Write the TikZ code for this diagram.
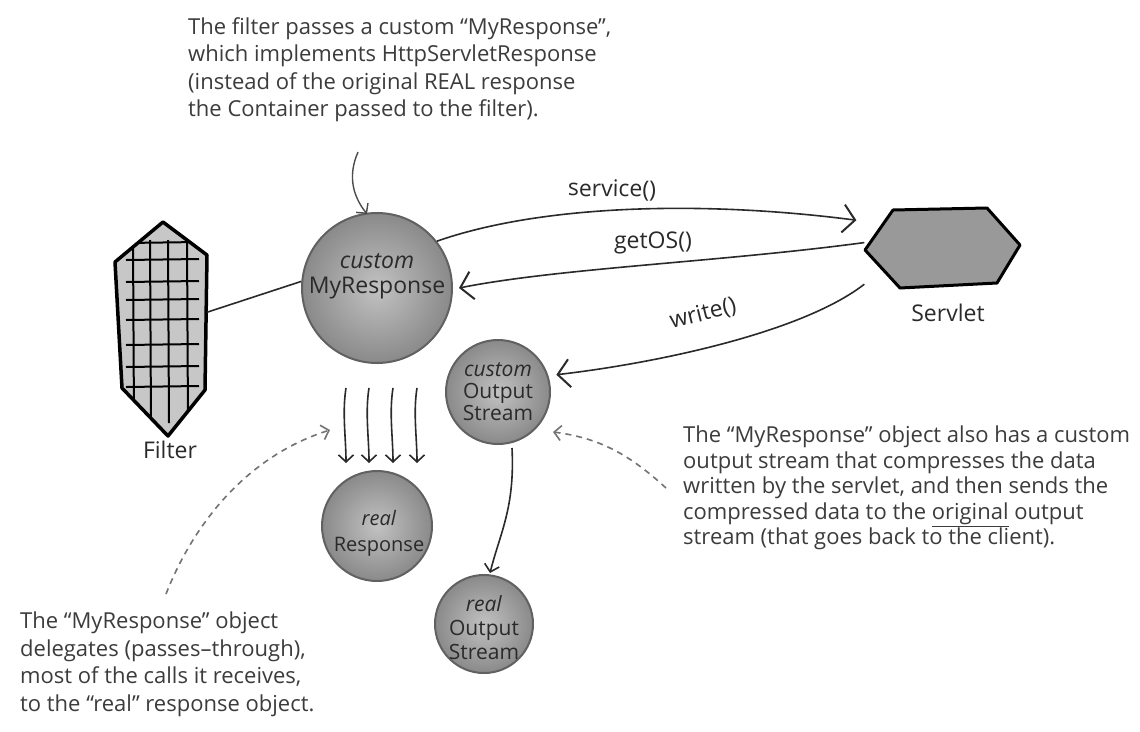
\documentclass[tikz,border=0pt]{standalone}
\usepackage{fontspec}
\setmainfont{Open Sans}
\usetikzlibrary{arrows.meta,calc}
\definecolor{ink}{HTML}{2A2A2A}
\definecolor{note}{HTML}{3C3C3C}
\begin{document}
\begin{tikzpicture}[x=1pt,y=-1pt,
  obj/.style={circle, draw=black!62, line width=2pt, inner color=black!24, outer color=black!46, inner sep=0pt},
  lbl/.style={align=center, text=ink, font=\fontsize{23}{23}\selectfont, inner sep=0pt},
  notetext/.style={align=left, text=note, anchor=north west, inner sep=0pt, font=\fontsize{22}{27.5}\selectfont},
  conn/.style={draw=ink, line width=1.6pt},
  bigtip/.style={-{Straight Barb[length=12pt,width=28pt,line width=2pt]}},
  smalltip/.style={-{Straight Barb[length=7pt,width=15pt]}},
  hint/.style={draw=black!55, line width=1.6pt, dash pattern=on 6pt off 5pt},
]
\useasboundingbox[fill=white] (0,0) rectangle (1140,731);

% ---------- Filter ----------
\node[inner sep=0pt, minimum width=92pt, minimum height=214pt] (filter) at (161,329) {};
\begin{scope}
  \clip (163,222) -- (207,255) -- (205,390) -- (168,436) -- (122,388) -- (115,262) -- cycle;
  \fill[black!22] (100,200) rectangle (230,450);
  \foreach \x in {133,150,168,187} \draw[black, line width=2pt] (\x,240) -- (\x+1,423);
  \foreach \y in {243,260,282,300,320,345,367,387} \draw[black, line width=2pt] (126,\y) -- (199,\y-1);
\end{scope}
\draw[black, line width=3.5pt, line join=round] (163,222) -- (207,255) -- (205,390) -- (168,436) -- (122,388) -- (115,262) -- cycle;
\node[lbl] (filterlbl) at (170,450) {Filter};

% ---------- Servlet ----------
\node[inner sep=0pt, minimum width=155pt, minimum height=80pt] (servlet) at (942,248) {};
\draw[black, line width=3pt, fill=black!40, line join=round] (865,250) -- (893,210) -- (987,208) -- (1020,245) -- (997,283) -- (900,288) -- cycle;
\node[lbl] (servletlbl) at (948,313) {Servlet};

% ---------- circles ----------
\node[obj, minimum size=150pt] (myr) at (377,288) {};
\node[lbl, font=\fontsize{23}{25}\selectfont] (myrt) at (377,276) {\textit{custom}\\MyResponse};
\node[obj, minimum size=104pt] (cos) at (498,392) {};
\node[lbl, font=\fontsize{21}{22}\selectfont] (cost) at (498,392) {\textit{custom}\\Output\\Stream};
\node[obj, minimum size=110pt] (rr) at (377,526) {};
\node[lbl, font=\fontsize{20}{26}\selectfont] (rrt) at (379,533) {\textit{real}\\Response};
\node[obj, minimum size=98pt] (ros) at (484,624) {};
\node[lbl, font=\fontsize{21}{24}\selectfont] (rost) at (484,628) {\textit{real}\\Output\\Stream};

% ---------- connectors ----------
\draw[conn] (filter.20) -- (myr.175);
\draw[conn, bigtip, shorten >=8pt] (myr.38) .. controls (540,205) and (700,200) .. (servlet.161);
\node[lbl, rotate=-1] (servicelbl) at (612,190) {service()};
\draw[conn, bigtip] (servlet.176) .. controls (720,262) and (560,268) .. ([xshift=6pt]myr.east);
\node[lbl] (getoslbl) at (653,243) {getOS()};
\draw[conn, bigtip, shorten >=8pt] (servlet.205) .. controls (800,334) and (650,364) .. (cos.18);
\node[lbl, rotate=14] (writelbl) at (703,314) {write()};

\foreach \dx in {-31,-8,16,40}{
  \draw[conn, smalltip] ([xshift=\dx pt, yshift=-24pt]myr.south) .. controls +(-4,25) and +(0,-25) .. ([xshift=\dx pt, yshift=7pt]rr.north);
}
\draw[conn, smalltip] ([xshift=14pt, yshift=-3pt]cos.south) .. controls +(3,60) and +(10,-40) .. ([xshift=6pt, yshift=1pt]ros.north);

% ---------- annotations ----------
\node[notetext] (topnote) at (188,17) {The filter passes a custom “MyResponse”,\\which implements HttpServletResponse\\(instead of the original REAL response\\the Container passed to the filter).};
\coordinate (tn) at (358,152);
\draw[conn, draw=black!70, line width=1.4pt, smalltip] (tn) .. controls (348,175) and (352,195) .. ([xshift=-10pt, yshift=-2pt]myr.north);

\node[notetext] (leftnote) at (20,612) {The “MyResponse” object\\delegates (passes–through),\\most of the calls it receives,\\to the “real” response object.};
\coordinate (ln) at (166,594);
\draw[hint, smalltip] (ln) .. controls (195,520) and (250,455) .. (330,430);

\node[notetext, font=\fontsize{22}{25.5}\selectfont] (rightnote) at (683,426) {The “MyResponse” object also has a custom\\output stream that compresses the data\\written by the servlet, and then sends the\\compressed data to the \underline{original} output\\stream (that goes back to the client).};
\coordinate (rn) at (666,488);
\draw[hint, smalltip] (rn) .. controls (630,455) and (600,438) .. (553,432);

\end{tikzpicture}
\end{document}
